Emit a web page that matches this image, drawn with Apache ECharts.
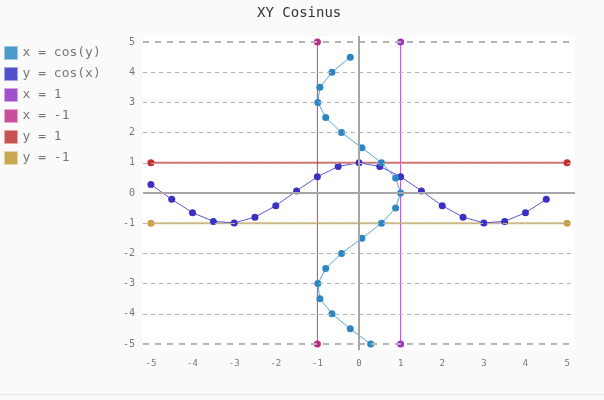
<!DOCTYPE html>
<html>
<head>
<meta charset="utf-8">
<script src="https://cdn.jsdelivr.net/npm/echarts@6/dist/echarts.min.js"></script>
<style>
  html, body { margin: 0; padding: 0; background: #fafafa; }
  #chart { position: absolute; left: 0; top: 0; width: 604px; height: 400px; }
  #rule { position: absolute; left: 0; top: 394px; width: 604px; height: 1px; background: #e6e6e6; }
</style>
</head>
<body>
<div id="rule"></div>
<div id="chart"></div>
<script>
// ---- data ----
const stepValues = [-5, -4.5, -4, -3.5, -3, -2.5, -2, -1.5, -1, -0.5, 0, 0.5, 1, 1.5, 2, 2.5, 3, 3.5, 4, 4.5];
const cosValues  = [0.28, -0.21, -0.65, -0.94, -0.99, -0.80, -0.42, 0.07, 0.54, 0.88, 1.00, 0.88, 0.54, 0.07, -0.42, -0.80, -0.99, -0.94, -0.65, -0.21];
const xTicks = [-5, -4, -3, -2, -1, 0, 1, 2, 3, 4, 5];
const yTicks = [-5, -4, -3, -2, -1, 0, 1, 2, 3, 4, 5];
const seriesNames = ['x = cos(y)', 'y = cos(x)', 'x = 1', 'x = -1', 'y = 1', 'y = -1'];
const lineXeq1  = [[1, -5], [1, 5]];
const lineXeqM1 = [[-1, -5], [-1, 5]];
const lineYeq1  = [[-5, 1], [5, 1]];
const lineYeqM1 = [[-5, -1], [5, -1]];

const legendColors = ['#4b9acb', '#5250cb', '#a24fcb', '#c84f98', '#c85252', '#c9a852'];
const legendBorders = ['#9cc8e4', '#a3a2e4', '#d3a6e4', '#e6a6cb', '#e6a8a8', '#e6d3a8'];

const FONT = '"DejaVu Sans Mono", monospace';

const xcosy = stepValues.map((y, i) => [cosValues[i], y]);
const ycosx = stepValues.map((x, i) => [x, cosValues[i]]);

const gridLines = yTicks.filter(v => v !== 0).map(v => {
  const edge = Math.abs(v) === 5;
  return {
    yAxis: v,
    lineStyle: { color: '#b3b3b3', width: edge ? 2 : 1, type: edge ? [6, 6] : [4, 4] }
  };
});
gridLines.push({ yAxis: 0, lineStyle: { color: '#a6a6a6', width: 2, type: 'solid' } });
gridLines.push({ xAxis: 0, lineStyle: { color: '#a6a6a6', width: 2, type: 'solid' } });

const chart = echarts.init(document.getElementById('chart'), null, { renderer: 'canvas' });
chart.setOption({
  backgroundColor: 'transparent',
  animation: false,
  title: {
    text: 'XY Cosinus',
    left: 252, top: 1,
    textStyle: { fontFamily: FONT, fontSize: 14, fontWeight: 'normal', color: '#333' }
  },
  legend: {
    orient: 'vertical',
    left: 4, top: 46, padding: 0,
    itemWidth: 13, itemHeight: 13, itemGap: 7,
    icon: 'rect',
    textStyle: { fontFamily: FONT, fontSize: 13, lineHeight: 13, color: '#777' },
    data: seriesNames.map((n, i) => ({
      name: n,
      itemStyle: { color: legendColors[i], borderColor: legendBorders[i], borderWidth: 1 }
    }))
  },
  grid: {
    left: 143, right: 29, top: 36, bottom: 50,
    show: true, backgroundColor: '#ffffff', borderWidth: 0
  },
  xAxis: {
    type: 'value', min: -5.19, max: 5.19,
    axisLine: { show: false }, axisTick: { show: false }, splitLine: { show: false },
    axisLabel: { customValues: xTicks, fontFamily: FONT, fontSize: 9, color: '#777', margin: 9 }
  },
  yAxis: {
    type: 'value', min: -5.2, max: 5.2,
    axisLine: { show: false }, axisTick: { show: false }, splitLine: { show: false },
    axisLabel: { customValues: yTicks, fontFamily: FONT, fontSize: 10, color: '#777', margin: 8 }
  },
  series: [
    {
      name: '__grid', type: 'line', data: [], z: 1, silent: true,
      markLine: { silent: true, symbol: 'none', label: { show: false }, animation: false, data: gridLines }
    },
    {
      name: 'x = cos(y)', type: 'line', data: xcosy, z: 4,
      symbol: 'circle', symbolSize: 7,
      itemStyle: { color: '#2d86c3' },
      lineStyle: { color: '#5aa6d6', width: 1 }
    },
    {
      name: 'y = cos(x)', type: 'line', data: ycosx, z: 3,
      symbol: 'circle', symbolSize: 7,
      itemStyle: { color: '#3a30c4' },
      lineStyle: { color: '#5c58d4', width: 1 }
    },
    {
      name: 'x = 1', type: 'line', data: lineXeq1, z: 2,
      symbol: 'circle', symbolSize: 7,
      itemStyle: { color: '#a030c8' },
      lineStyle: { color: '#b050d8', width: 1 }
    },
    {
      name: 'x = -1', type: 'line', data: lineXeqM1, z: 2,
      symbol: 'circle', symbolSize: 7,
      itemStyle: { color: '#c02a88' },
      lineStyle: { color: '#c0408f', width: 1 }
    },
    {
      name: 'y = 1', type: 'line', data: lineYeq1, z: 2,
      symbol: 'circle', symbolSize: 7,
      itemStyle: { color: '#c82e2e' },
      lineStyle: { color: '#cc3c3c', width: 2, opacity: 0.75 }
    },
    {
      name: 'y = -1', type: 'line', data: lineYeqM1, z: 2,
      symbol: 'circle', symbolSize: 7,
      itemStyle: { color: '#c8a040' },
      lineStyle: { color: '#c8a040', width: 2, opacity: 0.7 }
    }
  ]
});
</script>
</body>
</html>
